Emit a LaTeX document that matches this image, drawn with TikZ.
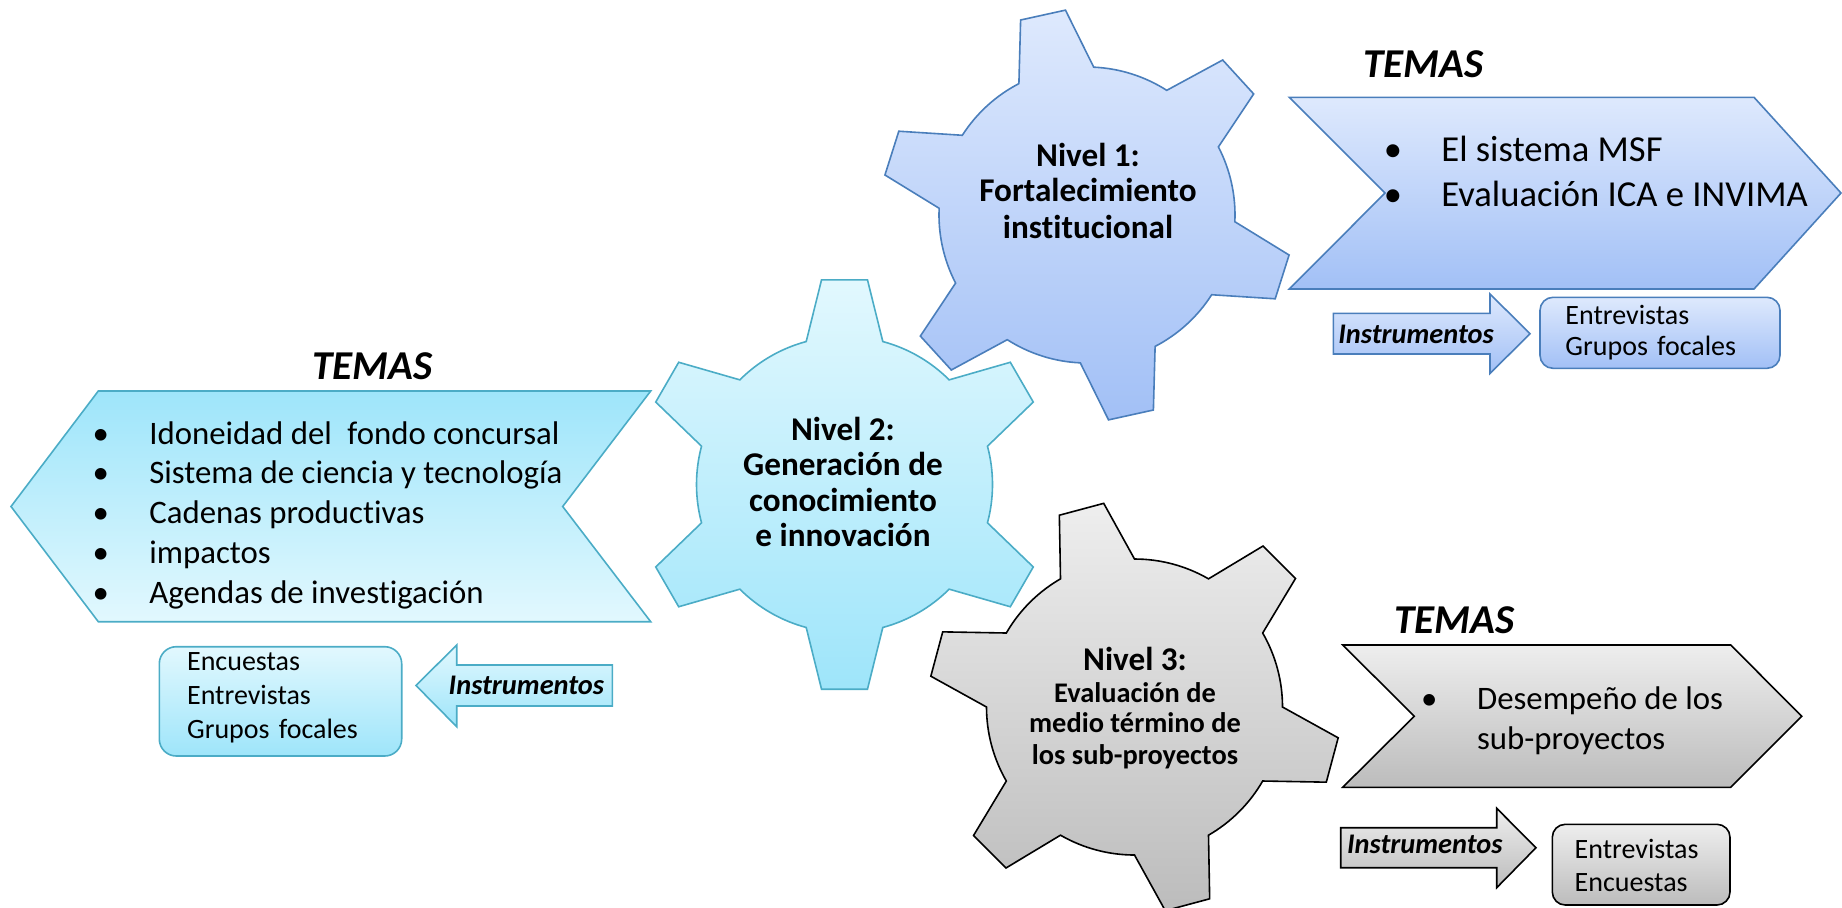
\documentclass[tikz,border=0pt]{standalone}
\usepackage{fontspec}
\setmainfont{Carlito}[Ligatures=NoCommon]
\definecolor{bTop}{RGB}{222,233,253}
\definecolor{bBot}{RGB}{162,192,246}
\definecolor{bLine}{RGB}{74,126,187}
\definecolor{cTop}{RGB}{226,248,254}
\definecolor{cBot}{RGB}{158,229,250}
\definecolor{cLine}{RGB}{75,172,198}
\definecolor{gTop}{RGB}{238,238,238}
\definecolor{gBot}{RGB}{188,188,188}
\newcommand{\drawgear}[3]{%
  \begin{scope}[shift={#2}]
    \draw[#1] ({#3-15}:148)
      \foreach \k in {0,...,5}{
        -- ({#3+60*\k-6.4}:206) -- ({#3+60*\k+6.4}:206) -- ({#3+60*\k+15}:148)
        arc[start angle={#3+60*\k+15}, end angle={#3+60*\k+45}, radius=148]
      } -- cycle;
  \end{scope}}
\begin{document}
\begin{tikzpicture}[x=0.5pt,y=-0.5pt,
  blueshape/.style={draw=bLine, line width=0.8pt, top color=bTop, bottom color=bBot},
  cyanshape/.style={draw=cLine, line width=0.8pt, top color=cTop, bottom color=cBot},
  cyanrev/.style={draw=cLine, line width=0.8pt, top color=cBot, bottom color=cTop},
  grayshape/.style={draw=black, line width=0.8pt, top color=gTop, bottom color=gBot},
  lt/.style={inner sep=0pt, anchor=base west},
  ct/.style={inner sep=0pt, anchor=base},
  temas/.style={lt, font=\fontsize{20.5}{24}\selectfont\bfseries\itshape},
  instr/.style={lt, font=\fontsize{14.2}{16}\selectfont\bfseries\itshape},
  boxt/.style={lt, font=\fontsize{14}{16}\selectfont},
  nivel/.style={ct, font=\fontsize{16.6}{20}\selectfont\bfseries},
  subt/.style={ct, font=\fontsize{14.2}{17}\selectfont\bfseries},
  bigA/.style={lt, font=\fontsize{18.3}{21}\selectfont},
  bigAb/.style={ct, font=\fontsize{18.3}{21}\selectfont},
  bigB/.style={lt, font=\fontsize{16.4}{20}\selectfont},
  bigBb/.style={ct, font=\fontsize{16.4}{20}\selectfont},
]
\useasboundingbox (0,0) rectangle (1842,907);

% ---------- Gears ----------
\drawgear{cyanshape}{(844.5,484.5)}{30}
\drawgear{blueshape}{(1087,215)}{17.6}
\drawgear{grayshape}{(1134.5,707)}{15}

% ---------- Chevrons ----------
\draw[blueshape] (1289.3,97.3) -- (1754,97.3) -- (1841,193) -- (1754,289) -- (1289.3,289) -- (1385,193) -- cycle;
\draw[cyanrev] (98.3,391) -- (650.7,391) -- (562.7,506.5) -- (650.7,621.7) -- (98.3,621.7) -- (11,506.5) -- cycle;
\draw[grayshape] (1342.7,645) -- (1730.7,645) -- (1801.7,716.2) -- (1730.7,787.3) -- (1342.7,787.3) -- (1414.3,716.2) -- cycle;

% ---------- Block arrows ----------
\draw[blueshape] (1333.3,313.3) -- (1490,313.3) -- (1490,294) -- (1530,333.7) -- (1490,373.5) -- (1490,354) -- (1333.3,354) -- cycle;
\draw[cyanshape] (416,685.5) -- (456.7,645) -- (456.7,665) -- (612.3,665) -- (612.3,706) -- (456.7,706) -- (456.7,726.7) -- cycle;
\draw[grayshape] (1340.7,827.7) -- (1496.7,827.7) -- (1496.7,808.3) -- (1536,847.7) -- (1496.7,887.7) -- (1496.7,867.7) -- (1340.7,867.7) -- cycle;

% ---------- Boxes ----------
\draw[blueshape, rounded corners=6.5pt] (1540,297.3) rectangle (1780,368.3);
\draw[cyanshape, rounded corners=8.5pt] (159.3,646.7) rectangle (401.7,756);
\draw[grayshape, rounded corners=6.5pt] (1552.3,824.3) rectangle (1730,905);

% ---------- Gear texts ----------
\node[nivel] (g1a) at (1088,166.7) {Nivel 1:};
\node[nivel] (g1b) at (1088,201.7) {Fortalecimiento};
\node[nivel] (g1c) at (1088,238.3) {institucional};

\node[nivel] (g2a) at (843,440.7) {Nivel 2:};
\node[nivel] (g2b) at (843,475) {Generación de};
\node[nivel] (g2c) at (843,511.7) {conocimiento};
\node[nivel] (g2d) at (843,546.7) {e innovación};

\node[nivel] (g3a) at (1135,670) {Nivel 3:};
\node[subt] (g3b) at (1135,702.3) {Evaluación de};
\node[subt] (g3c) at (1135,732.7) {medio término de};
\node[subt] (g3d) at (1135,764) {los sub-proyectos};

% ---------- TEMAS ----------
\node[temas] (t1) at (1362.7,77.3) {TEMAS};
\node[temas] (t2) at (311.7,379) {TEMAS};
\node[temas] (t3) at (1394,633.3) {TEMAS};

% ---------- Chevron 1 list ----------
\node[bigAb] (b1a) at (1393,161.7) {•};
\node[bigA] (l1a) at (1441,161.7) {El sistema MSF};
\node[bigAb] (b1b) at (1393,206.7) {•};
\node[bigA] (l1b) at (1441,206.7) {Evaluación ICA e INVIMA};

% ---------- Chevron 2 list ----------
\node[bigBb] (b2a) at (100.7,444) {•};
\node[bigB] (l2a) at (149,444) {Idoneidad del\hspace{0.25em} fondo concursal};
\node[bigBb] (b2b) at (100.7,483.8) {•};
\node[bigB] (l2b) at (149,483.8) {Sistema de ciencia y tecnología};
\node[bigBb] (b2c) at (100.7,523.6) {•};
\node[bigB] (l2c) at (149,523.6) {Cadenas productivas};
\node[bigBb] (b2d) at (100.7,563.4) {•};
\node[bigB] (l2d) at (149,563.4) {impactos};
\node[bigBb] (b2e) at (100.7,603.2) {•};
\node[bigB] (l2e) at (149,603.2) {Agendas de investigación};

% ---------- Chevron 3 list ----------
\node[bigBb] (b3a) at (1429.3,709.3) {•};
\node[bigB] (l3a) at (1476.7,709.3) {Desempeño de los};
\node[bigB] (l3b) at (1476.7,749.3) {sub-proyectos};

% ---------- Instrumentos ----------
\node[instr] (i1) at (1338,343.3) {Instrumentos};
\node[instr] (i2) at (448.3,694.3) {Instrumentos};
\node[instr] (i3) at (1346.7,853.3) {Instrumentos};

% ---------- Box texts ----------
\node[boxt] (x1a) at (1565,324) {Entrevistas};
\node[boxt] (x1b) at (1565,355) {Grupos\hspace{0.1em} focales};

\node[boxt] (x2a) at (186.7,670) {Encuestas};
\node[boxt] (x2b) at (186.7,704) {Entrevistas};
\node[boxt] (x2c) at (186.7,738.3) {Grupos\hspace{0.1em} focales};

\node[boxt] (x3a) at (1574.3,858.3) {Entrevistas};
\node[boxt] (x3b) at (1574.3,891.7) {Encuestas};
\end{tikzpicture}
\end{document}
